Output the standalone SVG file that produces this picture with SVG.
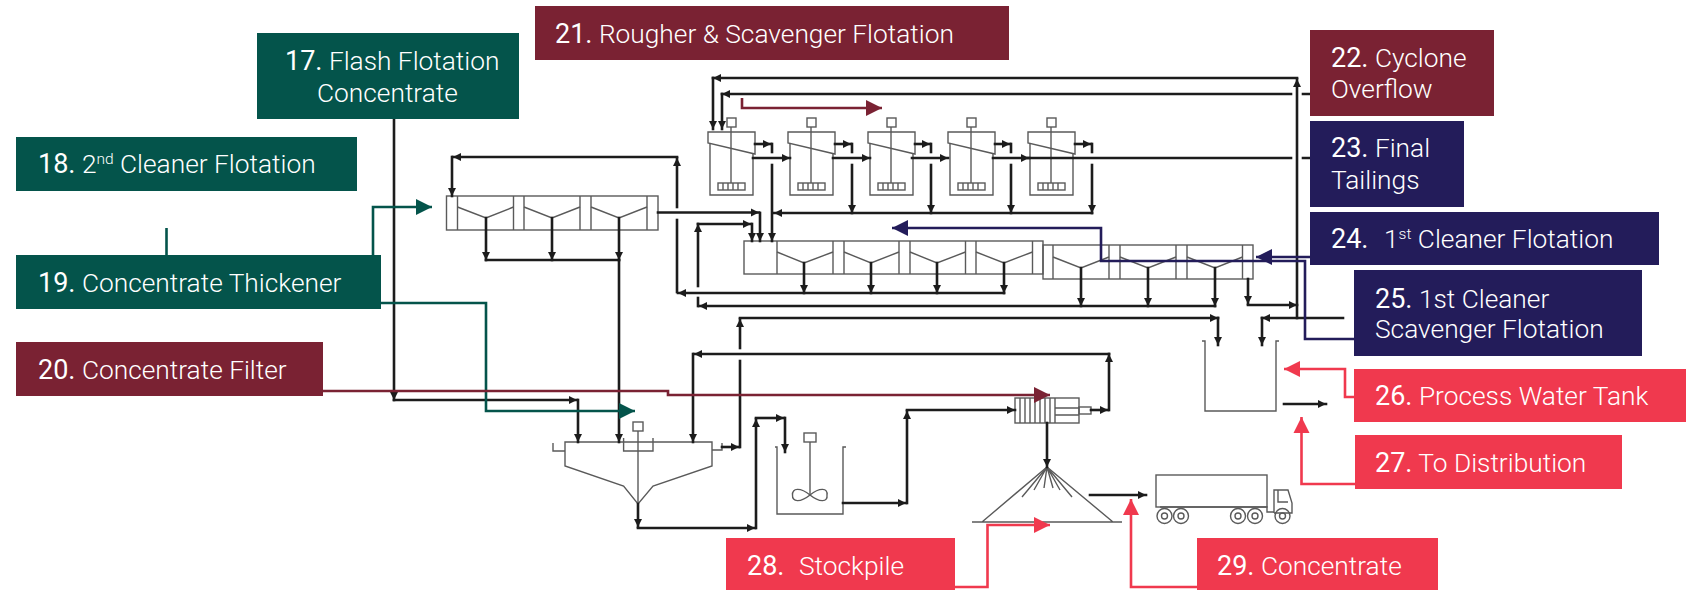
<svg xmlns="http://www.w3.org/2000/svg" width="1686" height="590" viewBox="0 0 1686 590">
<style>
text{font-family:Roboto,"Liberation Sans",sans-serif;font-size:26.3px;font-weight:300;fill:#fff}
.n{font-weight:400;font-size:27px}
.s{font-size:15.500px;font-weight:300}
.teal{fill:#04544b}.mar{fill:#7a2233}.navy{fill:#231c5a}.red{fill:#f0394e}
.eq{fill:none;stroke:#5a5a5a;stroke-width:1.4}
.fl{fill:none;stroke:#1c1c1c;stroke-width:2.6;stroke-linecap:square}
.lt{fill:none;stroke-width:2.6}
.lteal{stroke:#04544b}.lmar{stroke:#7a2233}.lnavy{stroke:#231c5a}.lred{stroke:#f0394e}
</style>
<defs>
<marker id="a" markerUnits="userSpaceOnUse" markerWidth="9" markerHeight="9" refX="8" refY="4.500" orient="auto"><path d="M0 0.500L8 4.500L0 8.500Z" fill="#1c1c1c"/></marker>
<marker id="ateal" markerUnits="userSpaceOnUse" markerWidth="17" markerHeight="18" refX="16" refY="9" orient="auto"><path d="M0 1L16 9L0 17Z" fill="#04544b"/></marker>
<marker id="amar" markerUnits="userSpaceOnUse" markerWidth="17" markerHeight="18" refX="16" refY="9" orient="auto"><path d="M0 1L16 9L0 17Z" fill="#7a2233"/></marker>
<marker id="anavy" markerUnits="userSpaceOnUse" markerWidth="17" markerHeight="18" refX="16" refY="9" orient="auto"><path d="M0 1L16 9L0 17Z" fill="#231c5a"/></marker>
<marker id="ared" markerUnits="userSpaceOnUse" markerWidth="17" markerHeight="18" refX="16" refY="9" orient="auto"><path d="M0 1L16 9L0 17Z" fill="#f0394e"/></marker>
<g id="cell" class="eq">
<path d="M708 132H755V154L708 143Z"/>
<path d="M710 143.500V195H753V153"/>
<path d="M731 127V183"/>
<rect x="727" y="118" width="9" height="9"/>
<rect x="718" y="183" width="27" height="7"/>
<path d="M723 183v7M728 183v7M733 183v7M738 183v7"/>
</g>
</defs>

<g id="equipment-flotation">
<g id="rougher-cells"><use href="#cell"/><use href="#cell" x="80"/><use href="#cell" x="160"/><use href="#cell" x="240"/><use href="#cell" x="320"/></g>
<g id="cleaner-2-bank" class="eq">
<rect x="446.500" y="196" width="211.500" height="34"/>
<path d="M457.500 196v34M513.500 196v34M524 196v34M580 196v34M591 196v34M647 196v34"/>
<path d="M457.500 207L486 218L513.500 207M524 207L552 218L580 207M591 207L619 218L647 207"/>
</g>
<g id="scavenger-bank" class="eq">
<rect x="744" y="241" width="299" height="33"/>
<path d="M777 241v33M833 241v33M844 241v33M899 241v33M910 241v33M965.500 241v33M976 241v33M1032.500 241v33"/>
<path d="M777 252L804 263L833 252M844 252L871 263L899 252M910 252L937 263L965.500 252M976 252L1004 263L1032.500 252"/>
</g>
<g id="cleaner-1-bank" class="eq">
<rect x="1043" y="245" width="210" height="34"/>
<path d="M1053 245v34M1109 245v34M1120 245v34M1176 245v34M1187 245v34M1242.500 245v34"/>
<path d="M1053 257L1081 268L1109 257M1120 257L1148 268L1176 257M1187 257L1215 268L1242.500 257"/>
</g>
</g>

<g id="equipment-thickener" class="eq">
<path d="M565 442H712V466L653 486L638 504L623.600 486L565 466Z"/>
<path d="M553 443V451H565M712 450H722V443M623.600 438V451H653V438"/>
<rect x="633" y="422" width="10" height="9"/>
<path d="M638 431V504"/>
</g>
<g id="equipment-agitator" class="eq">
<path d="M775 447H777V514H843V447H846"/>
<rect x="804" y="433" width="12" height="9"/>
<path d="M810 442V495"/>
<path d="M810 495C800 487 792 488 792.500 495C792 502 800 503 810 495C820 487 828 488 827 495C828 502 820 503 810 495Z"/>
</g>
<g id="equipment-filter" class="eq">
<rect x="1015" y="398" width="64" height="25"/>
<path d="M1020 398v25M1025 398v25M1030 398v25M1035 398v25M1040 398v25M1045 398v25M1050 398v25M1055 398v25"/>
<path d="M1055 408H1079M1055 415H1079"/>
<rect x="1079" y="407" width="12" height="7"/>
</g>
<g id="equipment-stockpile" class="eq">
<path d="M1047 467L982 522M1047 467L1113 522M972 522H1122"/>
<path d="M1047 467L1022 497M1047 467L1034 490M1047 467L1044 488M1047 467L1053 488M1047 467L1060 490M1047 467L1072 497"/>
</g>
<g id="equipment-truck" class="eq">
<rect x="1156" y="475" width="111" height="32"/>
<path d="M1160 507H1267V512H1274M1274 513V490H1288L1292 503V513H1274M1278 490V502H1288"/>
<circle cx="1164.500" cy="516" r="7.500"/><circle cx="1164.500" cy="516" r="3"/>
<circle cx="1181" cy="516" r="7.500"/><circle cx="1181" cy="516" r="3"/>
<circle cx="1238" cy="516" r="7.500"/><circle cx="1238" cy="516" r="3"/>
<circle cx="1255" cy="516" r="7.500"/><circle cx="1255" cy="516" r="3"/>
<circle cx="1282.500" cy="516" r="7.500"/><circle cx="1282.500" cy="516" r="3"/>
</g>
<g id="equipment-water-tank" class="eq">
<path d="M1202 341H1205V411H1276V341H1279"/>
</g>

<g id="connectors">
<g class="fl">
<path d="M1297 318V79" marker-end="url(#a)"/><path d="M1297 78H713" marker-end="url(#a)"/><path d="M713 78V129" marker-end="url(#a)"/>
<path d="M1291 94H722" marker-end="url(#a)"/><path d="M722 94V129" marker-end="url(#a)"/>
<path d="M1303 94H1309M1303 158H1309"/>
<path d="M1343 318H1262" marker-end="url(#a)"/><path d="M1262 318V345" marker-end="url(#a)"/>
<path d="M1028 158H1291"/>
<path d="M753 158H790" marker-end="url(#a)"/><path d="M833 158H870" marker-end="url(#a)"/><path d="M912 158H948" marker-end="url(#a)"/><path d="M993 158H1029" marker-end="url(#a)"/>
<path d="M755 144H771" marker-end="url(#a)"/><path d="M772 144V152"/>
<path d="M835 144H851" marker-end="url(#a)"/><path d="M852 144V152"/>
<path d="M915 144H930" marker-end="url(#a)"/><path d="M931 144V152"/>
<path d="M995 144H1010" marker-end="url(#a)"/><path d="M1011 144V152"/>
<path d="M1075 144H1091" marker-end="url(#a)"/><path d="M1092 144V152"/>
<path d="M772 165V241" marker-end="url(#a)"/>
<path d="M852 165V213" marker-end="url(#a)"/><path d="M931 165V213" marker-end="url(#a)"/><path d="M1011 165V213" marker-end="url(#a)"/><path d="M1092 165V213" marker-end="url(#a)"/>
<path d="M1092 213H774" marker-end="url(#a)"/>
<path d="M658 212.500H759" marker-end="url(#a)"/><path d="M760 213V241" marker-end="url(#a)"/>
<path d="M698 286V224"  marker-end="url(#a)"/><path d="M698 224H751" marker-end="url(#a)"/><path d="M752 224V241" marker-end="url(#a)"/>
<path d="M698 298V306"/>
<path d="M804 263V293" marker-end="url(#a)"/><path d="M871 263V293" marker-end="url(#a)"/><path d="M937 263V293" marker-end="url(#a)"/><path d="M1004 263V293" marker-end="url(#a)"/>
<path d="M1004 293H678" marker-end="url(#a)"/>
<path d="M677 292V220"/><path d="M677 207V158" marker-end="url(#a)"/><path d="M677 157H453" marker-end="url(#a)"/><path d="M452 157V196" marker-end="url(#a)"/>
<path d="M486 218V260" marker-end="url(#a)"/><path d="M552 218V260" marker-end="url(#a)"/>
<path d="M486 260H619"/>
<path d="M619 218V260" marker-end="url(#a)"/><path d="M619 260V442" marker-end="url(#a)"/>
<path d="M1081 268V306" marker-end="url(#a)"/><path d="M1148 268V306" marker-end="url(#a)"/><path d="M1215 268V306" marker-end="url(#a)"/>
<path d="M1215 306H699" marker-end="url(#a)"/>
<path d="M1248 279V304" marker-end="url(#a)"/>
<path d="M1248 305H1297" marker-end="url(#a)"/>
<path d="M740 348V319" marker-end="url(#a)"/><path d="M740 318H1218" marker-end="url(#a)"/><path d="M1218 318V345" marker-end="url(#a)"/>
<path d="M722 447H739" marker-end="url(#a)"/><path d="M740 447V361"/>
<path d="M1109 410V354" marker-end="url(#a)"/><path d="M1109 354H694" marker-end="url(#a)"/><path d="M693 354V442" marker-end="url(#a)"/>
<path d="M1091 410H1108" marker-end="url(#a)"/>
<path d="M394 119V400" marker-end="url(#a)"/><path d="M394 400H577" marker-end="url(#a)"/><path d="M578 400V442" marker-end="url(#a)"/>
<path d="M638 504V527" marker-end="url(#a)"/><path d="M638 528H755" marker-end="url(#a)"/><path d="M756 528V419" marker-end="url(#a)"/><path d="M756 418H784" marker-end="url(#a)"/><path d="M785 418V452" marker-end="url(#a)"/>
<path d="M843 503H906" marker-end="url(#a)"/><path d="M907 503V411" marker-end="url(#a)"/><path d="M907 410H1015" marker-end="url(#a)"/>
<path d="M1047 423V467" marker-end="url(#a)"/>
<path d="M1090 495H1146" marker-end="url(#a)"/>
<path d="M1284 404H1326" marker-end="url(#a)"/>
</g>
<g class="lt">
<path class="lt lteal" d="M373 255V207H432" marker-end="url(#ateal)"/>
<path class="lt lteal" d="M166.500 228V255"/>
<path class="lt lteal" d="M381 303H486V411H635" marker-end="url(#ateal)"/>
<path class="lt lmar" d="M323 391H668V395H1050" marker-end="url(#amar)"/>
<path class="lt lmar" d="M742 98V108H882" marker-end="url(#amar)"/>
<path class="lt lnavy" d="M1354 339H1305V261H1101V228H892" marker-end="url(#anavy)"/>
<path class="lt lnavy" d="M1310 257H1256" marker-end="url(#anavy)"/>
<path class="lt lred" d="M1354 397H1345V369H1284" marker-end="url(#ared)"/>
<path class="lt lred" d="M1355 484H1301.500V417" marker-end="url(#ared)"/>
<path class="lt lred" d="M953 587H987.500V525H1050" marker-end="url(#ared)"/>
<path class="lt lred" d="M1197 587H1131V499" marker-end="url(#ared)"/>
</g>
</g>

<g id="n17"><rect class="teal" x="257" y="33" width="262" height="86"/><text x="285" y="70"><tspan class="n">17.</tspan> Flash Flotation</text><text x="317" y="102">Concentrate</text></g>
<g id="n18"><rect class="teal" x="16" y="137" width="341" height="54"/><text x="38" y="173"><tspan class="n">18.</tspan> 2<tspan class="s" dy="-9">nd</tspan><tspan dy="9"> Cleaner Flotation</tspan></text></g>
<g id="n19"><rect class="teal" x="16" y="255" width="365" height="54"/><text x="38" y="292"><tspan class="n">19.</tspan> Concentrate Thickener</text></g>
<g id="n20"><rect class="mar" x="16" y="342" width="307" height="54"/><text x="38" y="379"><tspan class="n">20.</tspan> Concentrate Filter</text></g>
<g id="n21"><rect class="mar" x="535" y="6" width="474" height="54"/><text x="555" y="43"><tspan class="n">21.</tspan> Rougher &amp; Scavenger Flotation</text></g>
<g id="n22"><rect class="mar" x="1310" y="30" width="184" height="86"/><text x="1331" y="67"><tspan class="n">22.</tspan> Cyclone</text><text x="1331" y="98">Overflow</text></g>
<g id="n23"><rect class="navy" x="1310" y="121" width="154" height="86"/><text x="1331" y="157"><tspan class="n">23.</tspan> Final</text><text x="1331" y="189">Tailings</text></g>
<g id="n24"><rect class="navy" x="1310" y="212" width="349" height="53"/><text x="1331" y="248"><tspan class="n">24.</tspan></text><text x="1384" y="248">1<tspan class="s" dy="-9">st</tspan><tspan dy="9"> Cleaner Flotation</tspan></text></g>
<g id="n25"><rect class="navy" x="1354" y="270" width="288" height="86"/><text x="1375" y="308"><tspan class="n">25.</tspan> 1st Cleaner</text><text x="1375" y="338">Scavenger Flotation</text></g>
<g id="n26"><rect class="red" x="1354" y="369" width="332" height="53"/><text x="1375" y="405"><tspan class="n">26.</tspan> Process Water Tank</text></g>
<g id="n27"><rect class="red" x="1355" y="435" width="267" height="54"/><text x="1375" y="472"><tspan class="n">27.</tspan> To Distribution</text></g>
<g id="n28"><rect class="red" x="726" y="538" width="229" height="52"/><text x="747" y="575"><tspan class="n">28.</tspan></text><text x="799" y="575">Stockpile</text></g>
<g id="n29"><rect class="red" x="1197" y="538" width="241" height="52"/><text x="1217" y="575"><tspan class="n">29.</tspan> Concentrate</text></g>
</svg>
